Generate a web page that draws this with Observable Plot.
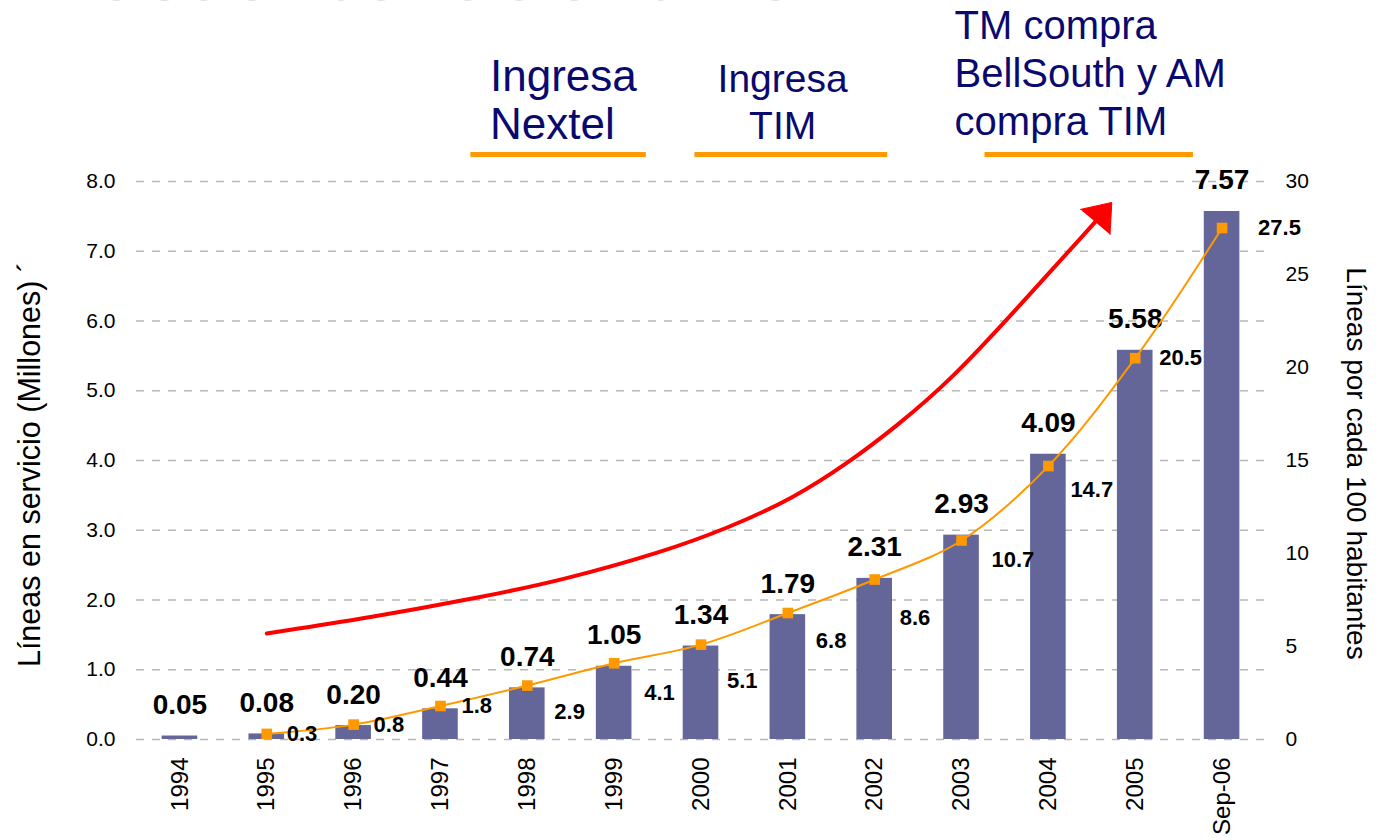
<!DOCTYPE html>
<html>
<head>
<meta charset="utf-8">
<script src="https://cdn.jsdelivr.net/npm/d3@7"></script>
<script src="https://cdn.jsdelivr.net/npm/@observablehq/plot@0.6"></script>
<style>
  html, body { margin: 0; padding: 0; background: #fff; overflow: hidden; }
  #chart svg { display: block; }
</style>
</head>
<body>
<div id="chart"></div>
<script>
// ---- Data ----
const years = ["1994","1995","1996","1997","1998","1999","2000","2001","2002","2003","2004","2005","Sep-06"];
const lineasMillones = [0.05, 0.08, 0.20, 0.44, 0.74, 1.05, 1.34, 1.79, 2.31, 2.93, 4.09, 5.58, 7.57];
const lineasPor100 = [null, 0.3, 0.8, 1.8, 2.9, 4.1, 5.1, 6.8, 8.6, 10.7, 14.7, 20.5, 27.5];
const leftTicks = [0, 1, 2, 3, 4, 5, 6, 7, 8];
const rightTicks = [0, 5, 10, 15, 20, 25, 30];
const leftLabel = "Líneas en servicio (Millones) ´";
const rightLabel = "Líneas por cada 100 habitantes";
const titleText = "Evolución de Telefonía Móvil";
const annotationTexts = ["Ingresa\nNextel", "Ingresa\nTIM", "TM compra\nBellSouth y AM\ncompra TIM"];

// trend arrow (in x-index / left-axis units)
const arrowPath = [[1.0,1.52],[2.2,1.75],[3.47,2.04],[4.39,2.28],[5.54,2.68],[6.31,3.03],[7.07,3.46],[7.70,3.97],[8.23,4.47],[8.88,5.15],[9.72,6.29],[10.54,7.42]];
const arrowHead = [[10.37,7.60],[10.73,7.70],[10.71,7.24]];

// ---- Derived tables ----
const ratio = 30 / 8; // right axis units per left axis unit
const barData = years.map((y, i) => ({i, year: y, v: lineasMillones[i]}));
const lineData = years.map((y, i) => ({i, year: y, v: lineasPor100[i]})).filter(d => d.v != null);

const fontFamily = "'Liberation Sans', Arial, Helvetica, sans-serif";
const navy = "#0a0a6e";
const orange = "#FF9900";

// label offsets (px) for the per-100 labels, as placed in the original
const labelDx = [20, 20, 21, 27, 30, 26, 28, 25, 30, 22, 24, 36];
const labelDy = [0, 0, 0, 26, 30, 36, 28, 38, 19, 24, 0, 0];

const plot = Plot.plot({
  width: 1382,
  height: 840,
  marginTop: 181,
  marginBottom: 101,
  marginLeft: 136,
  marginRight: 117,
  style: {fontFamily, color: "#000", background: "white", overflow: "visible"},
  x: {type: "linear", domain: [-0.5, years.length - 0.5]},
  y: {domain: [0, 8]},
  marks: [
    // faint cut-off slide title
    Plot.text([titleText], {x: 7.79, y: 10.60, text: d => d, textAnchor: "end", lineAnchor: "bottom", fontSize: 66, fill: "#c4c4c4"}),
    Plot.gridY(leftTicks, {stroke: "#b8b8b8", strokeOpacity: 1, strokeWidth: 1.6, strokeDasharray: "8,8"}),
    Plot.axisY({ticks: leftTicks, tickFormat: d3.format(".1f"), tickSize: 0, tickPadding: 21, fontSize: 21, label: null}),
    Plot.axisY({anchor: "right", ticks: rightTicks.map(v => v / ratio), tickFormat: d => String(Math.round(d * ratio)), tickSize: 0, tickPadding: 20, fontSize: 21, label: null}),
    Plot.axisX({ticks: d3.range(years.length), tickFormat: i => years[i], tickRotate: -90, tickSize: 0, tickPadding: 18, fontSize: 24, label: null}),
    Plot.text([leftLabel], {frameAnchor: "left", text: d => d, rotate: -90, textAnchor: "middle", lineAnchor: "middle", dx: -106, dy: 4, fontSize: 30.5}),
    Plot.text([rightLabel], {frameAnchor: "right", text: d => d, rotate: 90, textAnchor: "middle", lineAnchor: "middle", dx: 90, dy: 3, fontSize: 28}),
    // bars
    Plot.rectY(barData, {x1: d => d.i - 0.205, x2: d => d.i + 0.205, y1: 0, y2: "v", fill: "#646699"}),
    Plot.text(barData, {x: "i", y: "v", text: d => d3.format(".2f")(d.v), lineAnchor: "bottom", dy: -22, fontSize: 28, fontWeight: "bold"}),
    // red trend arrow
    Plot.line(arrowPath, {x: d => d[0], y: d => d[1], stroke: "#FF0000", strokeWidth: 4, curve: "basis"}),
    Plot.line(arrowHead, {x: d => d[0], y: d => d[1], fill: "#FF0000", stroke: "#FF0000", strokeWidth: 1}),
    // per-100 line
    Plot.line(lineData, {x: "i", y: d => d.v / ratio, stroke: orange, strokeWidth: 2, curve: "catmull-rom"}),
    Plot.dot(lineData, {x: "i", y: d => d.v / ratio, symbol: "square", r: 6, fill: orange, stroke: "none"}),
    ...lineData.map((d, k) => Plot.text([d], {x: "i", y: e => e.v / ratio, text: e => d3.format(".1f")(e.v), textAnchor: "start", lineAnchor: "middle", dx: labelDx[k], dy: labelDy[k], fontSize: 22, fontWeight: "bold"})),
    // annotations
    Plot.text([annotationTexts[0]], {x: 3.57, y: 8.616, text: d => d, textAnchor: "start", lineAnchor: "bottom", fontSize: 44, lineHeight: 1.07, fill: navy}),
    Plot.text([annotationTexts[1]], {x: 6.94, y: 8.616, text: d => d, textAnchor: "middle", lineAnchor: "bottom", fontSize: 39, lineHeight: 1.2, fill: navy}),
    Plot.text([annotationTexts[2]], {x: 8.92, y: 8.66, text: d => d, textAnchor: "start", lineAnchor: "bottom", fontSize: 40, lineHeight: 1.2, fill: navy}),
    Plot.ruleY([8.387, 8.387, 8.387], {x1: [3.35, 5.93, 9.27], x2: [5.37, 8.15, 11.67], y: d => d, stroke: orange, strokeWidth: 5})
  ]
});
document.getElementById("chart").appendChild(plot);
</script>
</body>
</html>
